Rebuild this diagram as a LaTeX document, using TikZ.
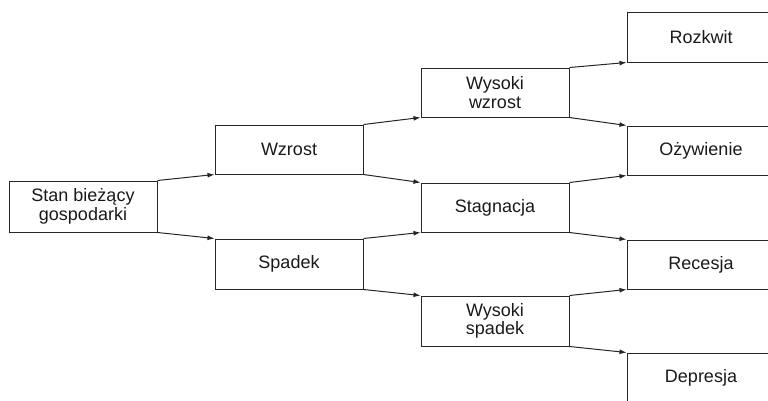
\documentclass[tikz,border=0pt]{standalone}
\usepackage{fontspec}
\setmainfont{Liberation Sans}
\usetikzlibrary{arrows.meta}
\begin{document}
\begin{tikzpicture}[x=1pt,y=-1pt,
  box/.style={draw=black!85,line width=1pt,minimum width=148pt,minimum height=50pt,inner sep=0pt,align=center,font=\fontsize{18}{18.5}\selectfont,text=black!90},
  arr/.style={draw=black!85,line width=1pt,-{Latex[length=7pt,width=5pt]}}]
\clip (0,0) rectangle (768,400);
\useasboundingbox (0,0) rectangle (768,400);
\node[box,minimum height=51pt] (stan) at (83,206.5) {Stan bieżący\\gospodarki};
\node[box,minimum height=49pt] (wzrost) at (289,149.5) {Wzrost};
\node[box] (spadek) at (289,264) {Spadek};
\node[box,minimum height=49pt] (ww) at (495,92.5) {Wysoki\\wzrost};
\node[box,minimum height=49pt] (stag) at (495,207.5) {Stagnacja};
\node[box] (ws) at (495,321) {Wysoki\\spadek};
\node[box] (rozk) at (701,37) {Rozkwit};
\node[box,minimum height=49pt] (ozyw) at (701,150.5) {Ożywienie};
\node[box,minimum height=49pt] (rec) at (701,264.5) {Recesja};
\node[box] (dep) at (701,378) {Depresja};
\draw[arr] (stan.north east) -- (wzrost.south west);
\draw[arr] (stan.south east) -- (spadek.north west);
\draw[arr] (wzrost.north east) -- (ww.south west);
\draw[arr] (wzrost.south east) -- (stag.north west);
\draw[arr] (spadek.north east) -- (stag.south west);
\draw[arr] (spadek.south east) -- (ws.north west);
\draw[arr] (ww.north east) -- (rozk.south west);
\draw[arr] (ww.south east) -- (ozyw.north west);
\draw[arr] (stag.north east) -- (ozyw.south west);
\draw[arr] (stag.south east) -- (rec.north west);
\draw[arr] (ws.north east) -- (rec.south west);
\draw[arr] (ws.south east) -- (dep.north west);
\end{tikzpicture}
\end{document}
